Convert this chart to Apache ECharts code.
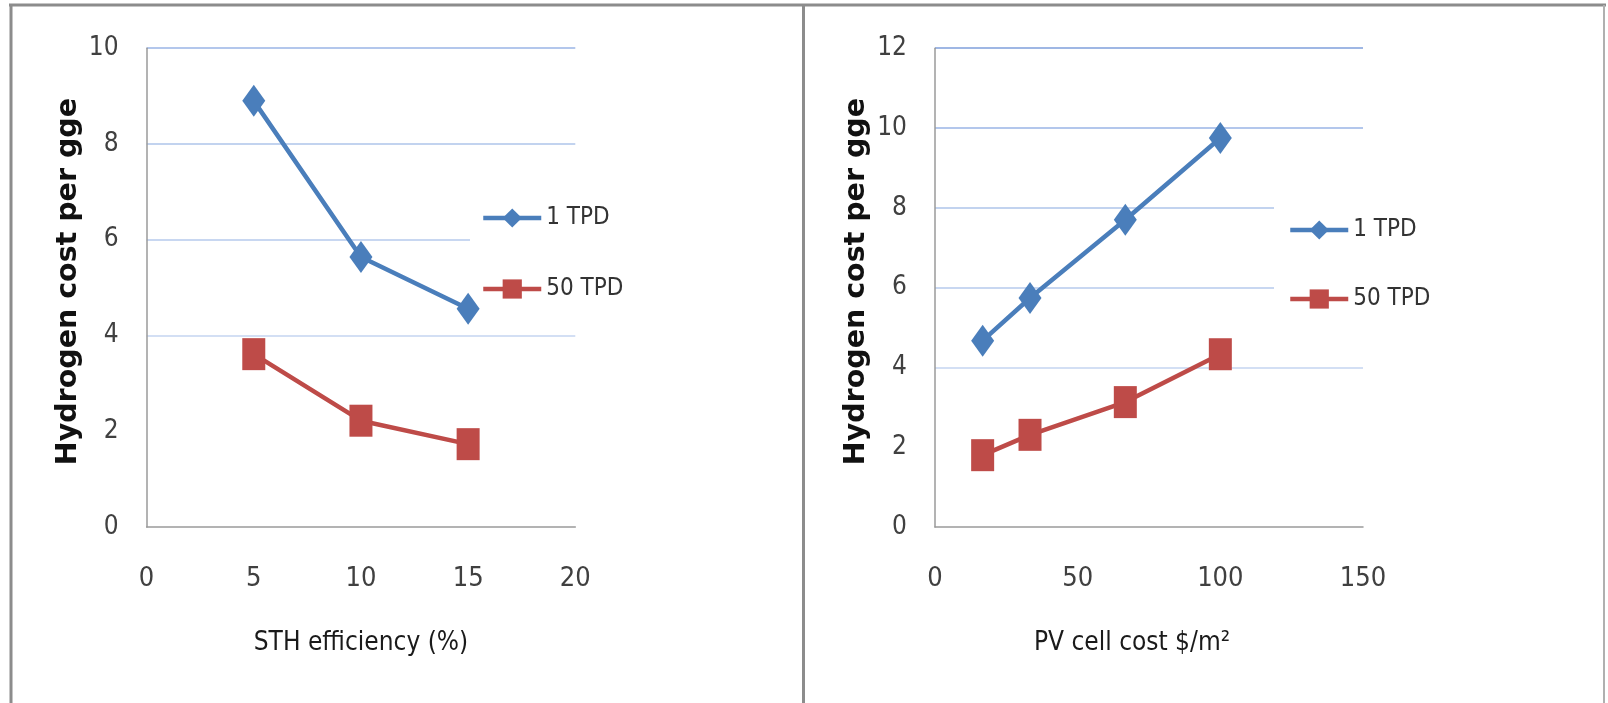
<!DOCTYPE html>
<html><head><meta charset="utf-8">
<script src="https://cdn.jsdelivr.net/npm/echarts@6/dist/echarts.min.js"></script>
<style>html,body{margin:0;padding:0;background:#fff}#c{width:1608px;height:703px}</style>
</head><body><div id="c"></div>
<script>
// ---- data ----
const seriesNames = ['1 TPD', '50 TPD'];
const sthEfficiency = [5, 10, 15];
const sth1TPD = [8.9, 5.64, 4.56];
const sth50TPD = [3.61, 2.22, 1.73];
const pvCellCost = [16.7, 33.3, 66.7, 100];
const pv1TPD = [4.67, 5.74, 7.70, 9.75];
const pv50TPD = [1.80, 2.31, 3.13, 4.33];
const leftXTicks = [0, 5, 10, 15, 20];
const leftYTicks = [0, 2, 4, 6, 8, 10];
const rightXTicks = [0, 50, 100, 150];
const rightYTicks = [0, 2, 4, 6, 8, 10, 12];
const yTitle = 'Hydrogen cost per gge';
const leftXTitle = 'STH efficiency (%)';
const rightXTitle = 'PV cell cost $/m\u00B2';

// ---- style ----
const NARROW = "'Liberation Sans Narrow', 'DejaVu Sans Condensed', 'Noto Sans', sans-serif";
const BLUE = '#4a7ebb', RED = '#be4b48';
const AXIS = '#9a9a9a';
const GRIDC = ['#ffffff', '#d3dff4', '#c8d7f1', '#c2d3ef', '#b3c7ec', '#9fb7e4', '#9fb7e4'];
const FRAME = '#8c8c8c';

function rng(t) { return { min: t[0], max: t[t.length - 1], interval: t[1] - t[0] }; }
function zip(xs, ys) { return xs.map((x, i) => [x, ys[i]]); }

function xAxis(idx, ticks, name, pad) {
  return Object.assign({
    type: 'value', gridIndex: idx, name: name, nameLocation: 'middle', nameGap: 103,
    nameTextStyle: { fontFamily: NARROW, fontSize: 26, color: '#1a1a1a', padding: pad || 0 },
    axisLine: { show: true, onZero: false, lineStyle: { color: AXIS, width: 1.5 } },
    axisTick: { show: false }, splitLine: { show: false },
    axisLabel: { fontFamily: NARROW, fontSize: 27, color: '#404040', margin: 38 }
  }, rng(ticks));
}
function yAxis(idx, ticks) {
  return Object.assign({
    type: 'value', gridIndex: idx, name: yTitle, nameLocation: 'middle', nameRotate: 90, nameGap: 64,
    nameTextStyle: { fontFamily: "'DejaVu Sans', sans-serif", fontWeight: 'bold', fontSize: 28.5, color: '#111', padding: [0, 0, 0, 12] },
    axisLine: { show: true, lineStyle: { color: AXIS, width: 1.5 } },
    axisTick: { show: false },
    splitLine: { show: true, showMinLine: false, lineStyle: { color: GRIDC, width: 2 } },
    axisLabel: { fontFamily: NARROW, fontSize: 26, color: '#404040', margin: 28 }
  }, rng(ticks));
}
function line(name, data, idx, sym, color) {
  return {
    type: 'line', name: name, xAxisIndex: idx, yAxisIndex: idx, data: data, z: 3,
    symbol: sym, symbolSize: [23, 32], showAllSymbol: true,
    lineStyle: { color: color, width: 4.5 }, itemStyle: { color: color },
    emphasis: { disabled: true }, animation: false
  };
}
function legend(left, top, gap, pad) {
  return {
    orient: 'vertical', left: left, top: top, data: seriesNames, z: 1,
    itemWidth: 58, itemHeight: 24, itemGap: gap, padding: pad, backgroundColor: '#fff',
    lineStyle: { width: 4.5 },
    textStyle: { fontFamily: NARROW, fontSize: 24, color: '#333', lineHeight: 30 },
    selectedMode: false
  };
}

const chart = echarts.init(document.getElementById('c'), null, { renderer: 'canvas' });
chart.setOption({
  backgroundColor: '#fff',
  animation: false,
  grid: [
    { left: 146.6, top: 48.2, width: 428.7, height: 478.8 },
    { left: 935, top: 48.2, width: 428, height: 478.8 }
  ],
  xAxis: [xAxis(0, leftXTicks, leftXTitle), xAxis(1, rightXTicks, rightXTitle, [0, 34, 0, 0])],
  yAxis: [yAxis(0, leftYTicks), yAxis(1, rightYTicks)],
  legend: [legend(470, 188, 41, [15, 20, 15, 11]), legend(1274, 205, 39, [10, 20, 15, 14])],
  series: [
    line(seriesNames[0], zip(sthEfficiency, sth1TPD), 0, 'diamond', BLUE),
    line(seriesNames[1], zip(sthEfficiency, sth50TPD), 0, 'rect', RED),
    line(seriesNames[0], zip(pvCellCost, pv1TPD), 1, 'diamond', BLUE),
    line(seriesNames[1], zip(pvCellCost, pv50TPD), 1, 'rect', RED)
  ],
  graphic: [
    { type: 'line', shape: { x1: 9, y1: 5, x2: 1606, y2: 5 }, style: { stroke: FRAME, lineWidth: 3 } },
    { type: 'line', shape: { x1: 11, y1: 5, x2: 11, y2: 703 }, style: { stroke: FRAME, lineWidth: 3 } },
    { type: 'line', shape: { x1: 803.5, y1: 5, x2: 803.5, y2: 703 }, style: { stroke: FRAME, lineWidth: 3 } },
    { type: 'line', shape: { x1: 1604, y1: 5, x2: 1604, y2: 703 }, style: { stroke: '#b0b0b0', lineWidth: 2 } }
  ]
});
</script></body></html>
